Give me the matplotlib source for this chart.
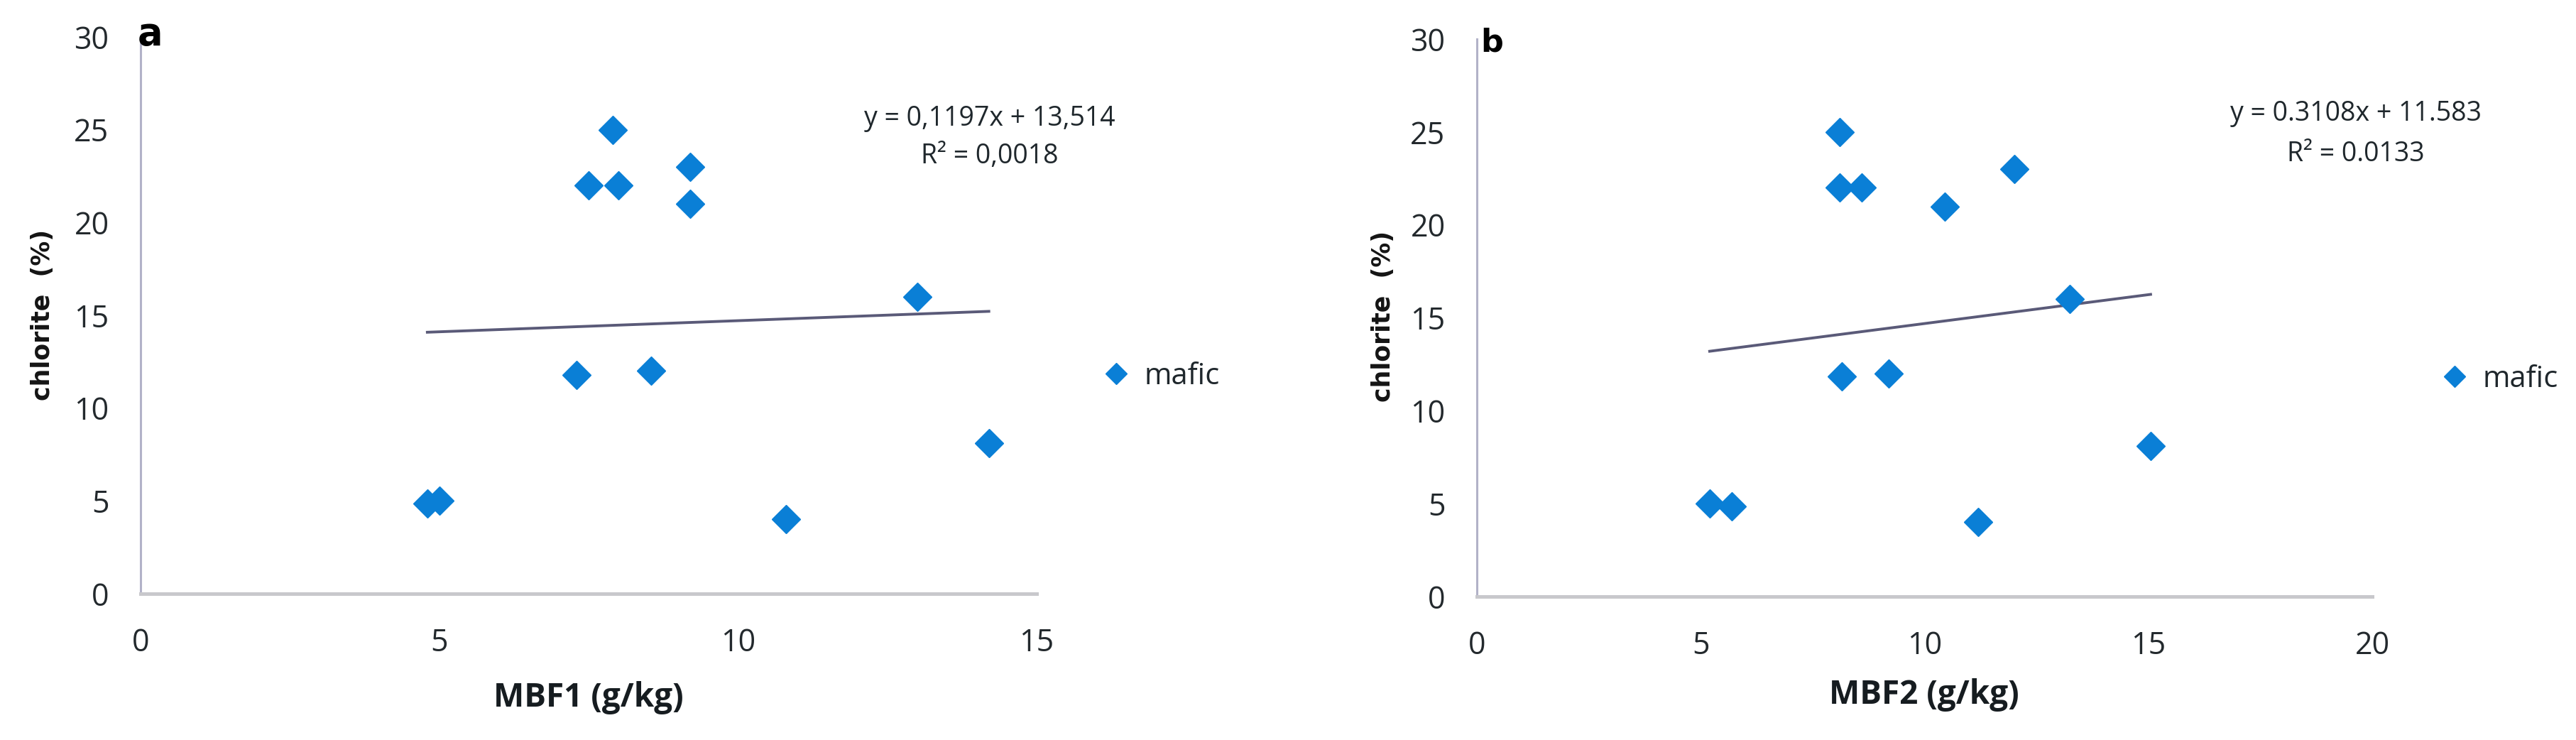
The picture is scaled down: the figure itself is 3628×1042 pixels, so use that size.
import matplotlib

matplotlib.use("Agg")
import matplotlib.pyplot as plt
from matplotlib.lines import Line2D

# Panel a: MBF1 vs chlorite
mbf1 = [7.9, 7.5, 8.0, 9.2, 9.2, 13.0, 7.3, 8.55, 4.8, 5.0, 10.8, 14.2]
chlorite_a = [25.0, 22.0, 22.0, 23.0, 21.0, 16.0, 11.8, 12.0, 4.85, 5.0, 4.0, 8.1]
slope_a, intercept_a = 0.1197, 13.514
eq_a = ["y = 0,1197x + 13,514", "R² = 0,0018"]

# Panel b: MBF2 vs chlorite
mbf2 = [8.1, 8.1, 8.6, 12.0, 10.45, 13.25, 8.15, 9.2, 5.2, 5.7, 11.2, 15.05]
chlorite_b = [25.0, 22.0, 22.0, 23.0, 21.0, 16.0, 11.85, 12.0, 5.0, 4.85, 4.0, 8.1]
slope_b, intercept_b = 0.3108, 11.583
eq_b = ["y = 0.3108x + 11.583", "R² = 0.0133"]

y_ticks = [0, 5, 10, 15, 20, 25, 30]
x_ticks_a = [0, 5, 10, 15]
x_ticks_b = [0, 5, 10, 15, 20]

W, H = 3628, 1042
BLUE = "#0a7fd6"
TREND = "#5a5a78"
TICK_COLOR = "#23292d"
CALIBRI = ["Open Sans", "DejaVu Sans"]


def fx(px):
    return px / W


def fy(py):
    return 1 - py / H


def draw_panel(fig, rect, xs, ys, slope, intercept, x_ticks, x_max):
    left, top, right, bottom = rect
    ax = fig.add_axes([fx(left), fy(bottom), fx(right) - fx(left), fy(top) - fy(bottom)])

    ax.plot(xs, ys, linestyle="none", marker="D", markersize=20,
            color=BLUE, markeredgecolor=BLUE, zorder=3)

    # linear trendline drawn from the fitted equation over the data range
    x_fit = [min(xs), max(xs)]
    y_fit = [slope * x + intercept for x in x_fit]
    ax.plot(x_fit, y_fit, color=TREND, linewidth=2.8, zorder=2)

    ax.set_xlim(0, x_max)
    ax.set_ylim(0, 30)
    ax.set_xticks(x_ticks)
    ax.set_yticks(y_ticks)

    for side in ["top", "right"]:
        ax.spines[side].set_visible(False)
    ax.spines["left"].set_color("#b2b2c8")
    ax.spines["left"].set_linewidth(2.2)
    ax.spines["bottom"].set_color("#c8c8cc")
    ax.spines["bottom"].set_linewidth(3.6)

    ax.tick_params(axis="both", length=0, labelsize=31, labelcolor=TICK_COLOR)
    ax.tick_params(axis="x", pad=34)
    ax.tick_params(axis="y", pad=32)
    for label in ax.get_xticklabels() + ax.get_yticklabels():
        label.set_fontfamily(CALIBRI)

    ax.set_facecolor("none")
    return ax


fig = plt.figure(figsize=(W / 100, H / 100), dpi=100)

draw_panel(fig, (198, 52, 1460, 836), mbf1, chlorite_a, slope_a, intercept_a, x_ticks_a, 15)
draw_panel(fig, (2080, 55, 3341, 840), mbf2, chlorite_b, slope_b, intercept_b, x_ticks_b, 20)

# axis titles
fig.text(fx(829), fy(982), "MBF1 (g/kg)", ha="center", va="center",
         fontsize=33, fontweight="bold", family=CALIBRI, color="#161c20")
fig.text(fx(2710), fy(979), "MBF2 (g/kg)", ha="center", va="center",
         fontsize=33, fontweight="bold", family=CALIBRI, color="#161c20")
fig.text(fx(60), fy(443), "chlorite  (%)", rotation=90, ha="center", va="center",
         fontsize=25, fontweight="bold", family="DejaVu Sans", color="#141414")
fig.text(fx(1948), fy(445), "chlorite  (%)", rotation=90, ha="center", va="center",
         fontsize=25, fontweight="bold", family="DejaVu Sans", color="#141414")

# panel letters
fig.text(fx(212), fy(48), "a", ha="center", va="center",
         fontsize=38, fontweight="bold", family="DejaVu Sans", color="black")
fig.text(fx(2101), fy(60), "b", ha="center", va="center",
         fontsize=32, fontweight="bold", family="DejaVu Sans", color="black")

# trendline equations
for text, py in zip(eq_a, [167, 220]):
    fig.text(fx(1394), fy(py), text, ha="center", va="center",
             fontsize=27, family=CALIBRI, color="#1f272c")
for text, py in zip(eq_b, [160, 217]):
    fig.text(fx(3318), fy(py), text, ha="center", va="center",
             fontsize=27, family=CALIBRI, color="#1f272c")

# legends
for lx, ly in [(1555, 530), (3440, 534)]:
    handle = Line2D([], [], linestyle="none", marker="D", markersize=15,
                    color=BLUE, markeredgecolor=BLUE)
    fig.legend([handle], ["mafic"], loc="center left",
               bbox_to_anchor=(fx(lx), fy(ly)), frameon=False,
               handlelength=0.8, handletextpad=0.55, borderpad=0,
               borderaxespad=0, prop={"family": CALIBRI, "size": 30},
               labelcolor="#1f272c")

fig.savefig("out.png", dpi=100)
